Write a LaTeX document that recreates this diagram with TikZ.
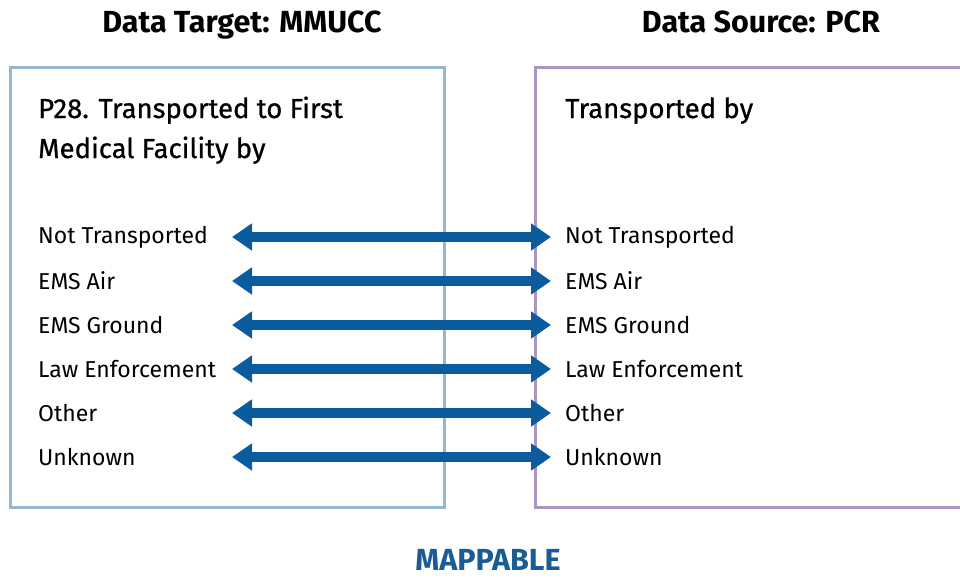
\documentclass[tikz,border=0pt]{standalone}
\usepackage{fontspec}
\setmainfont{Fira Sans}
\usetikzlibrary{arrows.meta}
\definecolor{tgtblue}{HTML}{93B6D3}
\definecolor{srcpurple}{HTML}{A895C2}
\definecolor{arrowblue}{HTML}{0B5C9E}
\definecolor{mapblue}{HTML}{1B5C96}
\tikzset{
  boxline/.style={line width=3pt},
  title/.style={font=\fontsize{30.5}{36}\selectfont\bfseries, anchor=base, inner sep=0pt},
  header/.style={font=\fontsize{27.5}{40}\selectfont\addfontfeature{FakeBold=0.8}, anchor=base west, align=left, inner sep=0pt},
  item/.style={font=\fontsize{23}{27}\selectfont, anchor=west, inner sep=0pt},
  maparrow/.style={arrowblue, line width=10pt, {Triangle[width=26pt,length=20pt]}-{Triangle[width=26pt,length=20pt]}},
}
\begin{document}
\begin{tikzpicture}[x=1pt,y=-1pt]
\useasboundingbox (0,0) rectangle (960,579);
\node[title] (ttl) at (242,32) {Data Target: MMUCC};
\node[title] (stl) at (761,32) {Data Source: PCR};
\draw[boxline, tgtblue] (10,67) rectangle (444,507);
\draw[boxline, srcpurple] (535,67) rectangle (975,507);
\node[header] (th) at (38,118) {P28. Transported to First};
\node[header] (th2) at (38,158) {Medical Facility by};
\node[header] (sh) at (565,118) {Transported by};
\foreach \i/\t in {0/Not Transported,1/EMS Air,2/EMS Ground,3/Law Enforcement,4/Other,5/Unknown}{
  \node[item] (L\i) at (38,237+44*\i) {\t};
  \node[item] (R\i) at (565,237+44*\i) {\t};
  \coordinate (la\i) at (232,237+44*\i);
  \coordinate (ra\i) at (551,237+44*\i);
  \draw[maparrow] (la\i) -- (ra\i);
}
\node[title, text=mapblue] (map) at (488,570) {MAPPABLE};
\end{tikzpicture}
\end{document}
